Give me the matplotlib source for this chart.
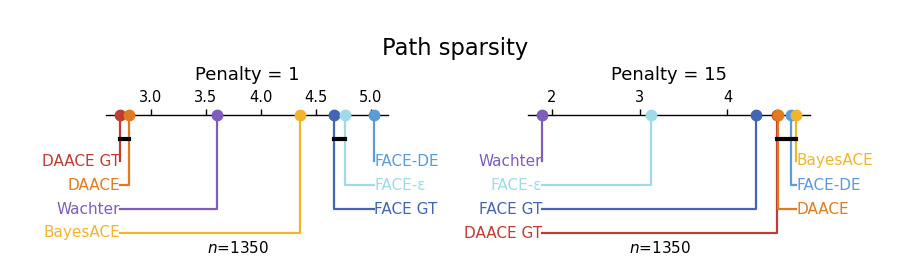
import matplotlib
matplotlib.use("Agg")
import matplotlib.pyplot as plt
from matplotlib.ticker import MultipleLocator

methods = ["DAACE GT", "DAACE", "Wachter", "BayesACE", "FACE GT", "FACE-ε", "FACE-DE"]
colors = {
    "DAACE GT": "#BF3B33",
    "DAACE": "#E07C1E",
    "Wachter": "#7E5DBE",
    "BayesACE": "#F0B52C",
    "FACE GT": "#4464B4",
    "FACE-ε": "#A0DAE9",
    "FACE-DE": "#5C9BD9",
}

ranks_p1 = [2.72, 2.80, 3.60, 4.36, 4.67, 4.77, 5.03]
ranks_p15 = [4.565, 4.58, 1.89, 4.78, 4.32, 3.13, 4.72]
cliques_p1 = [["DAACE GT", "DAACE"], ["FACE GT", "FACE-ε"]]
cliques_p15 = [["DAACE GT", "DAACE", "FACE-DE", "BayesACE"]]
titles = ["Penalty = 1", "Penalty = 15"]
tick_steps = [0.5, 1.0]
n_label = r"$n$=1350"

W, H = 897, 259
fig = plt.figure(figsize=(8.97, 2.59), dpi=100)
fig.text(455 / W, 1 - 48 / H, "Path sparsity", ha="center", va="center", fontsize=16.3)

panels = [(106, ranks_p1, cliques_p1), (528, ranks_p15, cliques_p15)]
for k, (x0, ranks, cliques) in enumerate(panels):
    ax = fig.add_axes([x0 / W, 1 - 255 / H, 282 / W, 140 / H])
    r = dict(zip(methods, ranks))
    lo, hi = min(ranks), max(ranks)
    pad = 0.055 * (hi - lo)
    xmin, xmax = lo - pad, hi + pad
    ax.set_xlim(xmin, xmax)
    ax.set_ylim(140, 0)
    for s in ["left", "right", "bottom"]:
        ax.spines[s].set_visible(False)
    ax.spines["top"].set_linewidth(1.0)
    ax.spines["top"].set_zorder(1)
    ax.set_yticks([])
    ax.xaxis.set_ticks_position("top")
    ax.xaxis.set_major_locator(MultipleLocator(tick_steps[k]))
    ax.tick_params(axis="x", direction="out", length=4, width=1, labelsize=10.5, pad=3)
    ax.patch.set_visible(False)

    order = sorted(methods, key=lambda m: r[m])
    nleft = (len(order) + 1) // 2
    left = order[:nleft]
    right = order[nleft:][::-1]
    for i, m in enumerate(left):
        y = 46 + 24 * i
        c = colors[m]
        ax.plot([r[m], r[m], lo], [0, y, y], color=c, lw=1.6, zorder=2, clip_on=False)
        ax.text(lo, y, m, color=c, ha="right", va="center", fontsize=11)
    for i, m in enumerate(right):
        y = 46 + 24 * i
        c = colors[m]
        ax.plot([r[m], r[m], hi], [0, y, y], color=c, lw=1.6, zorder=2, clip_on=False)
        ax.text(hi, y, m, color=c, ha="left", va="center", fontsize=11)
    for m in order:
        ax.plot([r[m]], [0], "o", color=colors[m], ms=7.5, zorder=4, clip_on=False)
    for cl in cliques:
        xs = [r[m] for m in cl]
        ax.plot([min(xs), max(xs)], [24, 24], color="black", lw=3,
                solid_capstyle="projecting", zorder=3)
    ax.text(xmin + 0.47 * (xmax - xmin), 133, n_label,
            ha="center", va="center", fontsize=11)
    fig.text((x0 + 141) / W, 1 - 75 / H, titles[k], ha="center", va="center", fontsize=13)

fig.savefig("out.png", dpi=100)
